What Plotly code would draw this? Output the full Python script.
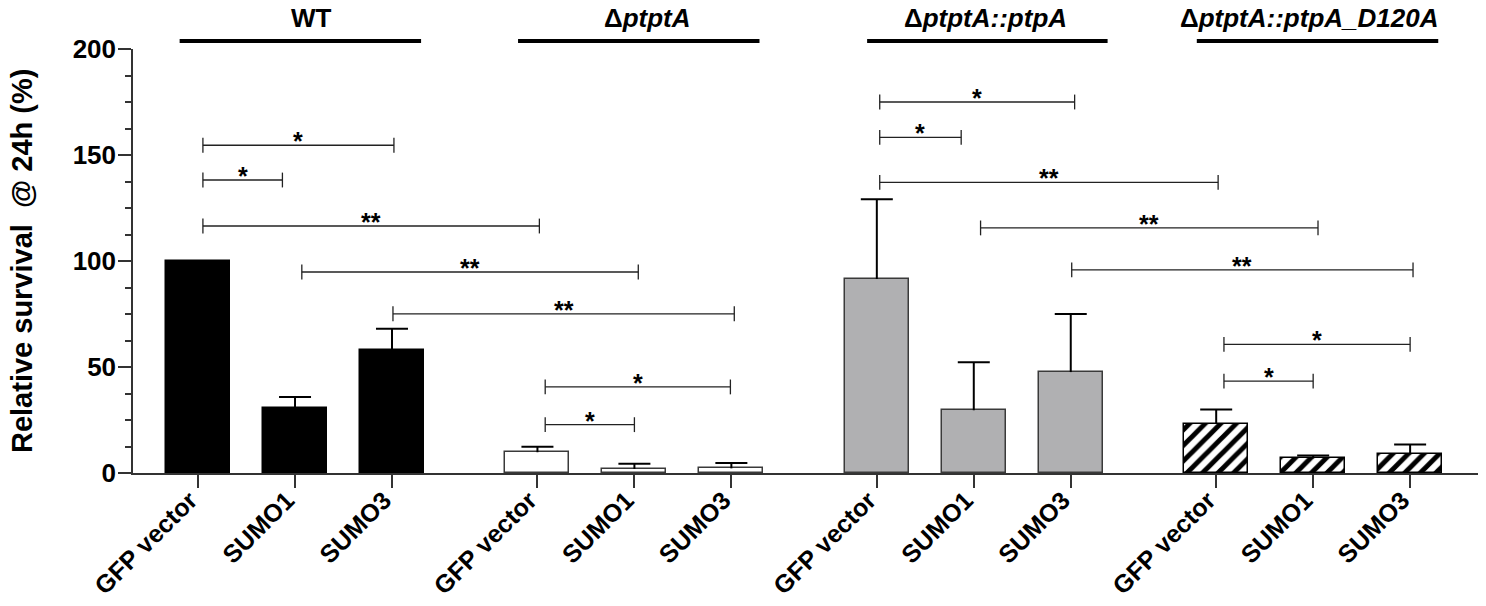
import plotly.graph_objects as go

# ---------------- data ----------------
conditions = ["GFP vector", "SUMO1", "SUMO3"]
group_names = ["WT", "ΔptptA", "ΔptptA::ptpA", "ΔptptA::ptpA_D120A"]
group_titles = ["<b>WT</b>", "<b>Δ<i>ptptA</i></b>",
                "<b>Δ<i>ptptA::ptpA</i></b>", "<b>Δ<i>ptptA::ptpA_D120A</i></b>"]

wt_mean = [100.0, 30.5, 58.2]
wt_err = [0.0, 5.3, 9.8]
ko_mean = [9.8, 1.9, 2.2]
ko_err = [2.6, 2.5, 2.5]
comp_mean = [91.5, 29.6, 47.6]
comp_err = [37.6, 22.6, 27.4]
mut_mean = [23.3, 6.9, 8.8]
mut_err = [6.6, 1.3, 4.6]

# significance brackets: start, end (x in category units), height, label
br_x0 = [0.05, 0.05, 0.05, 1.07, 2.01, 3.58, 3.58, 7.03, 7.03, 7.03, 8.07, 9.01, 10.58, 10.58]
br_x1 = [2.02, 0.87, 3.52, 4.54, 5.53, 5.49, 4.50, 9.04, 7.87, 10.52, 11.55, 12.53, 12.50, 11.50]
br_y = [154.6, 138.2, 116.5, 94.8, 75.1, 40.6, 22.8, 175.0, 158.3, 137.1, 115.6, 95.8, 60.7, 43.3]
br_lab = ["*", "*", "**", "**", "**", "*", "*", "*", "*", "**", "**", "**", "*", "*"]

# group header spans (x in category units)
hdr_x0 = [-0.19, 3.30, 6.90, 10.30]
hdr_x1 = [2.30, 5.79, 9.38, 12.79]
hdr_tx = [1.17, 4.63, 8.12, 11.46]

# ---------------- figure ----------------
FONT = "Arial, 'Liberation Sans', sans-serif"
GAP = 3.5
means = [wt_mean, ko_mean, comp_mean, mut_mean]
errs = [wt_err, ko_err, comp_err, mut_err]
styles = [
    dict(color="black", line=dict(color="black", width=1.5)),
    dict(color="white", line=dict(color="#3a3a3a", width=1.5)),
    dict(color="#b0b0b2", line=dict(color="#3a3a3a", width=1.5)),
    dict(color="white", line=dict(color="black", width=1.5),
         pattern=dict(shape="/", fgcolor="#000000", bgcolor="#ffffff", fgopacity=1,
                      fillmode="replace", size=11, solidity=0.45)),
]

fig = go.Figure()
shapes = []
annotations = []
tickvals, ticktext = [], []
CAP = 0.165  # half-width of error-bar caps, in category units
for g in range(4):
    xs = [g * GAP + i for i in range(3)]
    tickvals += xs
    ticktext += ["<b>%s</b>" % c for c in conditions]
    fig.add_trace(go.Bar(
        x=xs, y=means[g], width=0.66, name=group_names[g],
        marker=styles[g], showlegend=False,
    ))
    # upper-only error bars
    for x, m, e in zip(xs, means[g], errs[g]):
        eb = dict(color="black", width=2)
        shapes.append(dict(type="line", xref="x", yref="y", x0=x, x1=x, y0=m, y1=m + e, line=eb))
        shapes.append(dict(type="line", xref="x", yref="y", x0=x - CAP, x1=x + CAP,
                           y0=m + e, y1=m + e, line=eb))

TK = 3.5
for x0, x1, y, lab in zip(br_x0, br_x1, br_y, br_lab):
    ln = dict(color="#222", width=1.3)
    shapes.append(dict(type="line", xref="x", yref="y", x0=x0, x1=x1, y0=y, y1=y, line=ln))
    shapes.append(dict(type="line", xref="x", yref="y", x0=x0, x1=x0, y0=y - TK, y1=y + TK, line=ln))
    shapes.append(dict(type="line", xref="x", yref="y", x0=x1, x1=x1, y0=y - TK, y1=y + TK, line=ln))
    annotations.append(dict(x=(x0 + x1) / 2, y=y, xref="x", yref="y", text="<b>%s</b>" % lab,
                            showarrow=False, yanchor="middle", xanchor="center", yshift=4,
                            font=dict(family=FONT, size=25, color="black")))

for x0, x1, tx, t in zip(hdr_x0, hdr_x1, hdr_tx, group_titles):
    shapes.append(dict(type="line", xref="x", yref="paper", x0=x0, x1=x1, y0=1.0189, y1=1.0189,
                       line=dict(color="black", width=4)))
    annotations.append(dict(x=tx, y=1.074, xref="x", yref="paper", text=t, showarrow=False,
                            yanchor="middle", xanchor="center",
                            font=dict(family=FONT, size=26, color="black")))

annotations.append(dict(x=-0.0825, y=0.5, xref="paper", yref="paper",
                        text="<b>Relative survival  @ 24h (%)</b>", textangle=-90,
                        showarrow=False, xanchor="center", yanchor="middle",
                        font=dict(family=FONT, size=29, color="black")))

fig.update_layout(
    width=1486, height=606,
    margin=dict(l=133, r=8, t=49, b=133, autoexpand=False),
    plot_bgcolor="white", paper_bgcolor="white",
    shapes=shapes, annotations=annotations,
    bargap=0,
    font=dict(family=FONT, color="black"),
)
fig.update_xaxes(range=[-0.671, 13.2], tickvals=tickvals, ticktext=ticktext, tickangle=-45,
                 automargin=False, ticklabelstandoff=-12, ticklabelshift=-8,
                 ticks="outside", ticklen=13, tickwidth=1.5, tickcolor="#333",
                 showline=True, linecolor="#333", linewidth=1.5, showgrid=False, zeroline=False,
                 tickfont=dict(family=FONT, size=25, color="black"))
fig.update_yaxes(range=[0, 200], tickvals=[0, 50, 100, 150, 200],
                 ticktext=["<b>%d</b>" % v for v in [0, 50, 100, 150, 200]],
                 automargin=False, ticklabelstandoff=-3,
                 ticks="outside", ticklen=13, tickwidth=1.5, tickcolor="#333",
                 minor=dict(dtick=12.5, tick0=0, ticks="outside", ticklen=6, tickwidth=1.5,
                            tickcolor="#333", showgrid=False),
                 showline=True, linecolor="#333", linewidth=1.5, showgrid=False, zeroline=False,
                 tickfont=dict(family=FONT, size=26, color="black"))

fig.write_html("out.html")
